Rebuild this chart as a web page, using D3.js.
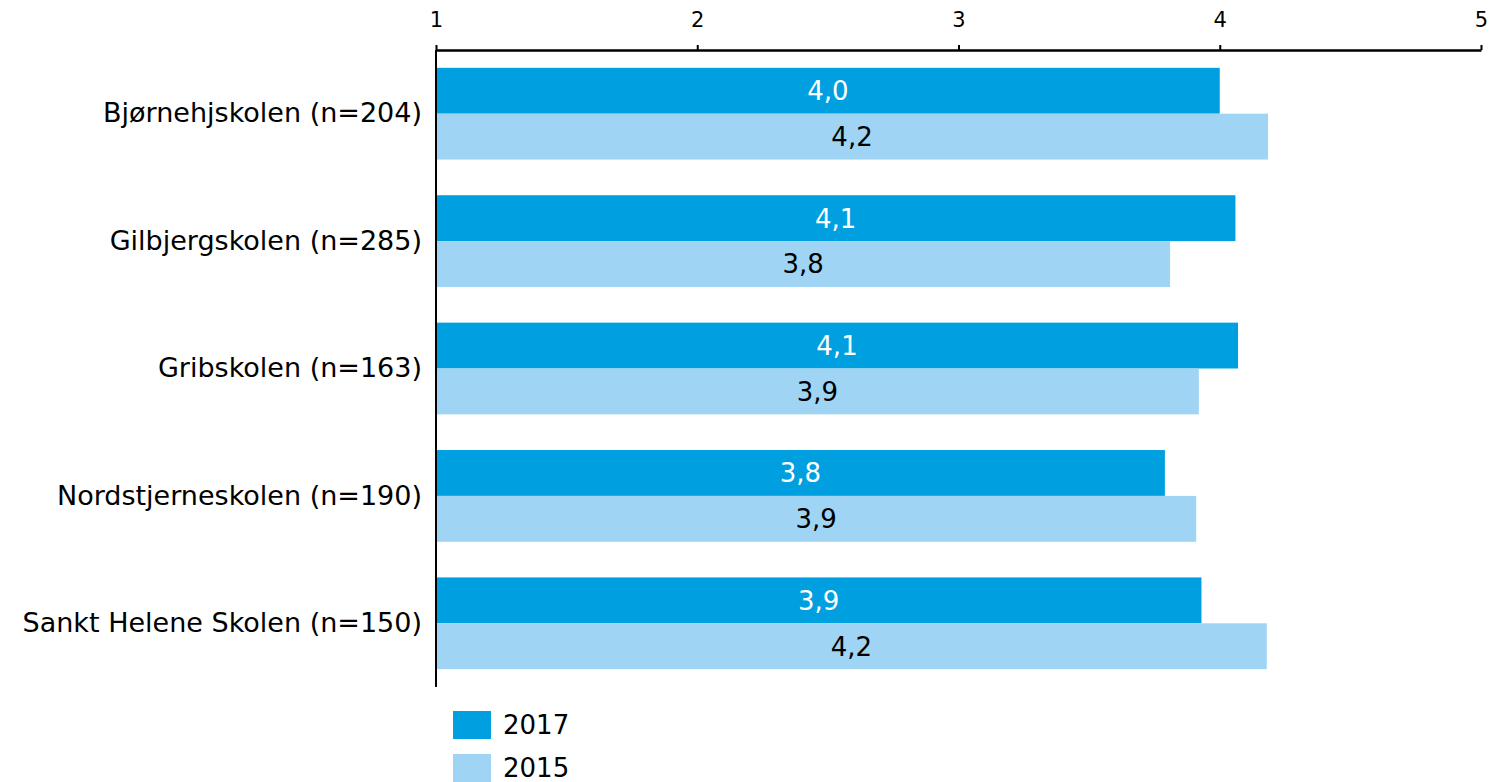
<!DOCTYPE html>
<html><head><meta charset="utf-8">
<script src="https://cdn.jsdelivr.net/npm/d3@7"></script>
<style>body{margin:0;background:#fff}svg{display:block}text{font-family:"DejaVu Sans",Verdana,sans-serif}</style>
</head><body><svg id="c" width="1509" height="782"></svg>
<script>
const categories = ["Bjørnehjskolen (n=204)","Gilbjergskolen (n=285)","Gribskolen (n=163)","Nordstjerneskolen (n=190)","Sankt Helene Skolen (n=150)"];
const series = ["2017","2015"];
const values2017 = [4.00, 4.06, 4.07, 3.79, 3.93];
const values2015 = [4.185, 3.81, 3.92, 3.91, 4.18];
const ticks = [1,2,3,4,5];
const colors = {"2017":"#009fe0","2015":"#9fd4f4"};
const labelColors = {"2017":"#ffffff","2015":"#000000"};

const svg = d3.select("#c");
const x = d3.scaleLinear().domain([1,5]).range([436,1481]);
const y = d3.scaleBand().domain(categories).range([50,687]).paddingInner(0.28).paddingOuter(0.14);
const ys = d3.scaleBand().domain(series).range([0,y.bandwidth()]);

const data = categories.map((c,i)=>({cat:c, vals:[{s:"2017",v:values2017[i]},{s:"2015",v:values2015[i]}]}));

const g = svg.append("g").selectAll("g").data(data).join("g")
  .attr("transform",d=>`translate(0,${y(d.cat)})`);
g.selectAll("rect").data(d=>d.vals).join("rect")
  .attr("x",x(1)).attr("y",d=>ys(d.s)).attr("height",ys.bandwidth())
  .attr("width",d=>x(d.v)-x(1)).attr("fill",d=>colors[d.s]);
g.selectAll("text").data(d=>d.vals).join("text")
  .attr("x",d=>(x(1)+x(d.v))/2).attr("y",d=>ys(d.s)+ys.bandwidth()/2)
  .attr("dy","0.36em").attr("text-anchor","middle").attr("font-size",26)
  .attr("fill",d=>labelColors[d.s]).text(d=>d.v.toFixed(1).replace(".",","));

// top axis
const ax = svg.append("g").attr("transform","translate(0,50)")
  .call(d3.axisTop(x).tickValues(ticks).tickSize(5).tickSizeOuter(0).tickFormat(d=>String(d)));
ax.select(".domain").attr("stroke","#000").attr("stroke-width",2.5);
ax.selectAll(".tick line").attr("stroke","#000").attr("stroke-width",2);
ax.selectAll(".tick text").attr("font-size",21).attr("fill","#000").attr("y",-23)
  .style("font-family",'"DejaVu Sans",Verdana,sans-serif');

// left axis
const ay = svg.append("g").attr("transform",`translate(${x(1)},0)`)
  .call(d3.axisLeft(y).tickSize(0).tickPadding(14));
ay.select(".domain").attr("stroke","#000").attr("stroke-width",2).attr("d","M0,50V687");
ay.selectAll(".tick text").attr("font-size",27).attr("fill","#000")
  .style("font-family",'"DejaVu Sans",Verdana,sans-serif');

// legend
const lg = svg.append("g").selectAll("g").data(series).join("g")
  .attr("transform",(d,i)=>`translate(453,${711+i*43})`);
lg.append("rect").attr("width",38).attr("height",28).attr("fill",d=>colors[d]);
lg.append("text").attr("x",50).attr("y",14).attr("dy","0.36em").attr("font-size",26).attr("fill","#000").text(d=>d);
</script></body></html>
